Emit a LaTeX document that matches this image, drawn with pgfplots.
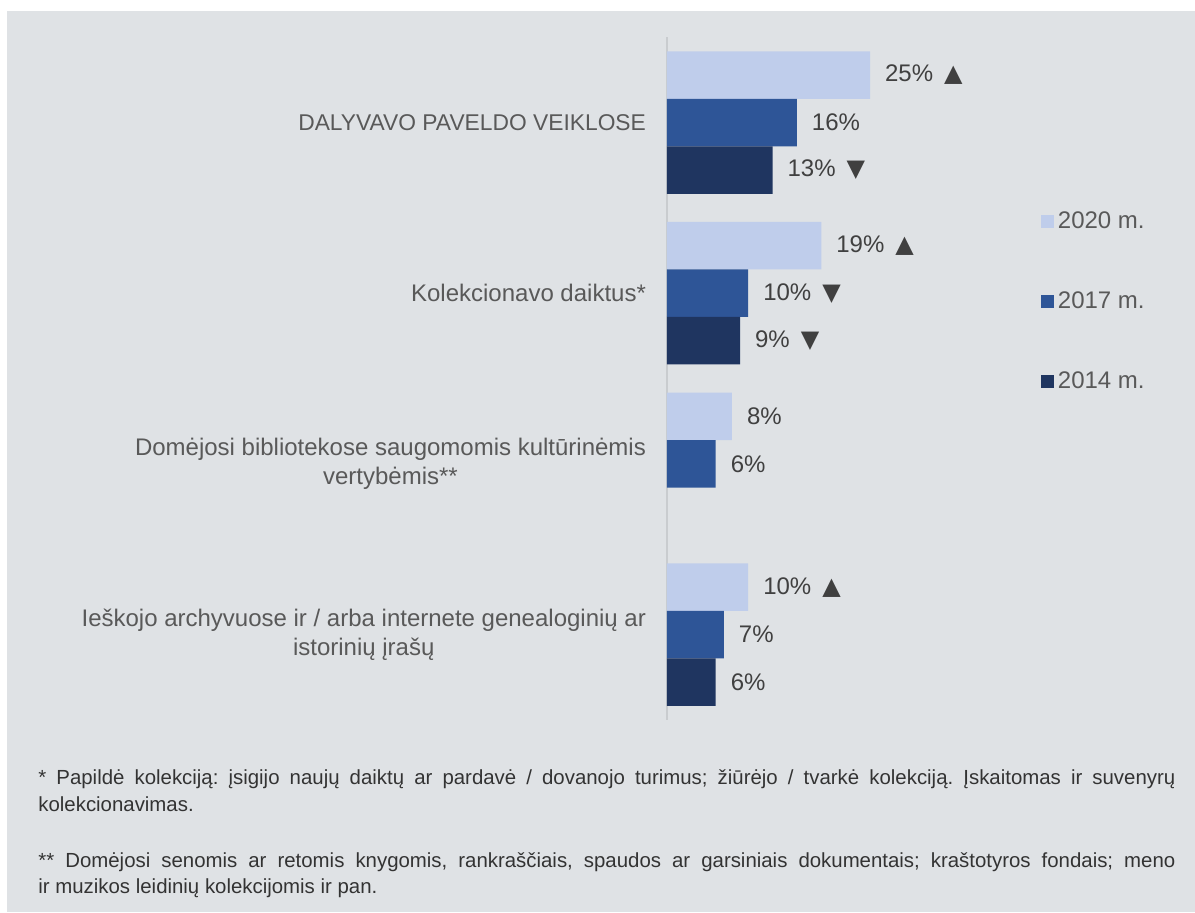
\documentclass[border=0pt]{standalone}
\usepackage{fontspec}
\setmainfont{Liberation Sans}
\newfontfamily\symfont[Scale=1.0]{DejaVu Sans}
\usepackage{pgfplots}
\pgfplotsset{compat=1.18}
\definecolor{bg}{HTML}{DFE2E5}
\definecolor{c20}{HTML}{BFCDEB}
\definecolor{c17}{HTML}{2E5597}
\definecolor{c14}{HTML}{1F3560}
\definecolor{lbl}{HTML}{595959}
\definecolor{dlbl}{HTML}{404040}
\definecolor{fn}{HTML}{333333}
\definecolor{axisg}{HTML}{C9CCCF}
\protected\def\up{\hspace{5.5pt}{\symfont ▲}}
\protected\def\dn{\hspace{5.5pt}{\symfont ▼}}
\frenchspacing
\begin{document}
\begin{tikzpicture}
\useasboundingbox (0,0) rectangle (597.5pt,-456.5pt);
\fill[white] (0,0) rectangle (597.5pt,-456.5pt);
\fill[bg] (3.5pt,-5.5pt) rectangle (597.5pt,-456pt);
\begin{axis}[
  at={(333.5pt,-360pt)}, anchor=south west,
  scale only axis, x=4.06pt, y=85.35pt,
  xmin=0, xmax=60, ymin=-0.5, ymax=3.5,
  axis line style={draw=none},
  xtick=\empty, ytick={0,1,2,3},
  major tick length=0pt,
  yticklabels={{Ieškojo archyvuose ir / arba internete genealoginių ar\\istorinių įrašų},{Domėjosi bibliotekose saugomomis kultūrinėmis\\vertybėmis**},{Kolekcionavo daiktus*},{\fontsize{11.4}{14}\selectfont DALYVAVO PAVELDO VEIKLOSE}},
  yticklabel style={align=center, font=\fontsize{12}{14.5}\selectfont, text=lbl, xshift=-7pt},
  xbar, bar width=23.75pt,
  clip=false,
  point meta=explicit symbolic,
  nodes near coords,
  nodes near coords style={font=\fontsize{12}{14}\selectfont, text=dlbl, anchor=west, xshift=4pt},
  legend style={draw=none, fill=none, at={(0.7667,0.6128)}, anchor=west, inner sep=0pt, row sep=26pt, font=\fontsize{12}{14}\selectfont, text=lbl, cells={anchor=west}},
]
\draw[axisg, line width=1pt] (axis cs:0,-0.5) -- (axis cs:0,3.5);
\addplot[fill=c20, draw=none, bar shift=23.75pt, legend image code/.code={\fill[c20] (0pt,-3.25pt) rectangle (6.5pt,3.25pt);}]
  coordinates {(25,3) [25\%\up] (19,2) [19\%\up] (8,1) [8\%] (10,0) [10\%\up]};
\addlegendentry{2020 m.}
\addplot[fill=c17, draw=none, bar shift=0pt, legend image code/.code={\fill[c17] (0pt,-3.25pt) rectangle (6.5pt,3.25pt);}]
  coordinates {(16,3) [16\%] (10,2) [10\%\dn] (6,1) [6\%] (7,0) [7\%]};
\addlegendentry{2017 m.}
\addplot[fill=c14, draw=none, bar shift=-23.75pt, legend image code/.code={\fill[c14] (0pt,-3.25pt) rectangle (6.5pt,3.25pt);}]
  coordinates {(13,3) [13\%\dn] (9,2) [9\%\dn] (6,0) [6\%]};
\addlegendentry{2014 m.}
\end{axis}
\begin{scope}[every node/.style={anchor=base west, inner sep=0pt, font=\fontsize{10.2}{12}\selectfont, text=fn}]
\node at (19pt,-392.5pt) {\makebox[568.5pt][s]{* Papildė kolekciją: įsigijo naujų daiktų ar pardavė / dovanojo turimus; žiūrėjo / tvarkė kolekciją. Įskaitomas ir suvenyrų}};
\node at (19pt,-406pt) {kolekcionavimas.};
\node at (19pt,-434pt) {\makebox[568.5pt][s]{** Domėjosi senomis ar retomis knygomis, rankraščiais, spaudos ar garsiniais dokumentais; kraštotyros fondais; meno}};
\node at (19pt,-447pt) {ir muzikos leidinių kolekcijomis ir pan.};
\end{scope}
\end{tikzpicture}
\end{document}
